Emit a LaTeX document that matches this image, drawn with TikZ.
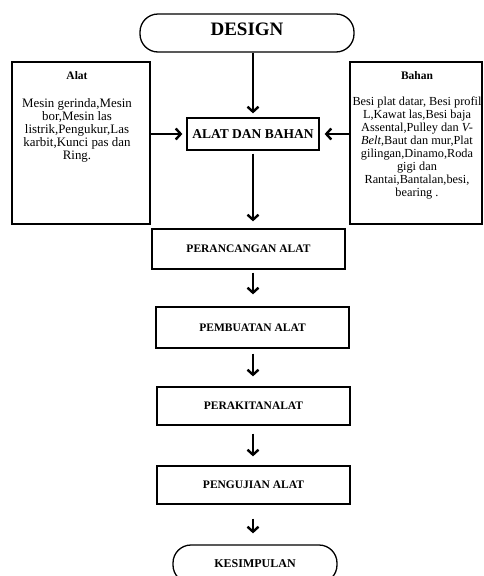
\documentclass[tikz,border=0pt]{standalone}
\usepackage{fontspec}
\setmainfont{Liberation Serif}
\usetikzlibrary{arrows.meta}
\tikzset{
  procbox/.style={draw=black, line width=1.3pt, inner sep=0pt, align=center,
    font=\bfseries\fontsize{11.5}{13}\selectfont},
  termbox/.style={draw=black, line width=1.3pt, inner sep=0pt, rounded corners=18pt, align=center},
  sidebox/.style={draw=black, line width=1.3pt, inner sep=0pt},
  sidetxt/.style={inner sep=0pt, align=center, font=\fontsize{12.3}{13}\selectfont},
  flow/.style={line width=2.2pt, -{Straight Barb[length=5pt,width=11pt,line width=2.4pt]}}
}
\begin{document}
\begin{tikzpicture}[x=1pt,y=-1pt]
\useasboundingbox (0,0) rectangle (483,576);
\clip (0,0) rectangle (483,576);
\coordinate (ax) at (253,0);
% terminators
\node[termbox, minimum width=214pt, minimum height=38pt, text depth=8pt,
  font=\bfseries\fontsize{19}{20}\selectfont] (design) at (247,33) {DESIGN};
\node[termbox, minimum width=164pt, minimum height=38pt,
  font=\bfseries\fontsize{12}{13}\selectfont] (kes) at (255,564) {KESIMPULAN};
% side boxes
\node[sidebox, minimum width=138pt, minimum height=162pt] (alat) at (81,143) {};
\node[sidebox, minimum width=132pt, minimum height=162pt] (bahan) at (416,143) {};
\node[sidetxt, anchor=north, font=\fontsize{12.9}{13}\selectfont] (alattxt) at (77,71) {{\bfseries\fontsize{11.5}{13}\selectfont Alat}\\[15pt]
  Mesin gerinda,Mesin\\ bor,Mesin las\\ listrik,Pengukur,Las\\ karbit,Kunci pas dan\\ Ring.};
\node[sidetxt, anchor=north] (bahantxt) at (417,71) {{\bfseries\fontsize{11.5}{13}\selectfont Bahan}\\[13pt]
  Besi plat datar, Besi profil\\ L,Kawat las,Besi baja\\ Assental,Pulley dan \textit{V-}\\
  \textit{Belt},Baut dan mur,Plat\\ gilingan,Dinamo,Roda\\ gigi dan\\ Rantai,Bantalan,besi,\\ bearing .};
% process boxes
\node[procbox, minimum width=132pt, minimum height=32pt,
  font=\bfseries\fontsize{13.5}{14}\selectfont] (aldb) at (253,134) {ALAT DAN BAHAN};
\node[procbox, minimum width=193pt, minimum height=40pt] (p1) at (248.5,249) {PERANCANGAN ALAT};
\node[procbox, minimum width=193pt, minimum height=41pt] (p2) at (252.5,327.5) {PEMBUATAN ALAT};
\node[procbox, minimum width=193pt, minimum height=38pt] (p3) at (253.5,406) {PERAKITANALAT};
\node[procbox, minimum width=193pt, minimum height=38pt] (p4) at (253.5,485) {PENGUJIAN ALAT};
% connectors
\draw[flow, shorten >=4pt] (design.south -| ax) -- (aldb.north -| ax);
\draw[flow, shorten <=3pt, shorten >=7pt] (aldb.south -| ax) -- (p1.north -| ax);
\draw[flow, shorten <=3pt, shorten >=12pt] (p1.south -| ax) -- (p2.north -| ax);
\draw[flow, shorten <=5pt, shorten >=10pt] (p2.south -| ax) -- (p3.north -| ax);
\draw[flow, shorten <=8pt, shorten >=9pt] (p3.south -| ax) -- (p4.north -| ax);
\draw[flow, shorten <=14pt, shorten >=11pt] (p4.south -| ax) -- (kes.north -| ax);
\draw[flow, shorten >=4pt] (alat.east |- aldb.west) -- (aldb.west);
\draw[flow, shorten >=5pt] (bahan.west |- aldb.east) -- (aldb.east);
\end{tikzpicture}
\end{document}
